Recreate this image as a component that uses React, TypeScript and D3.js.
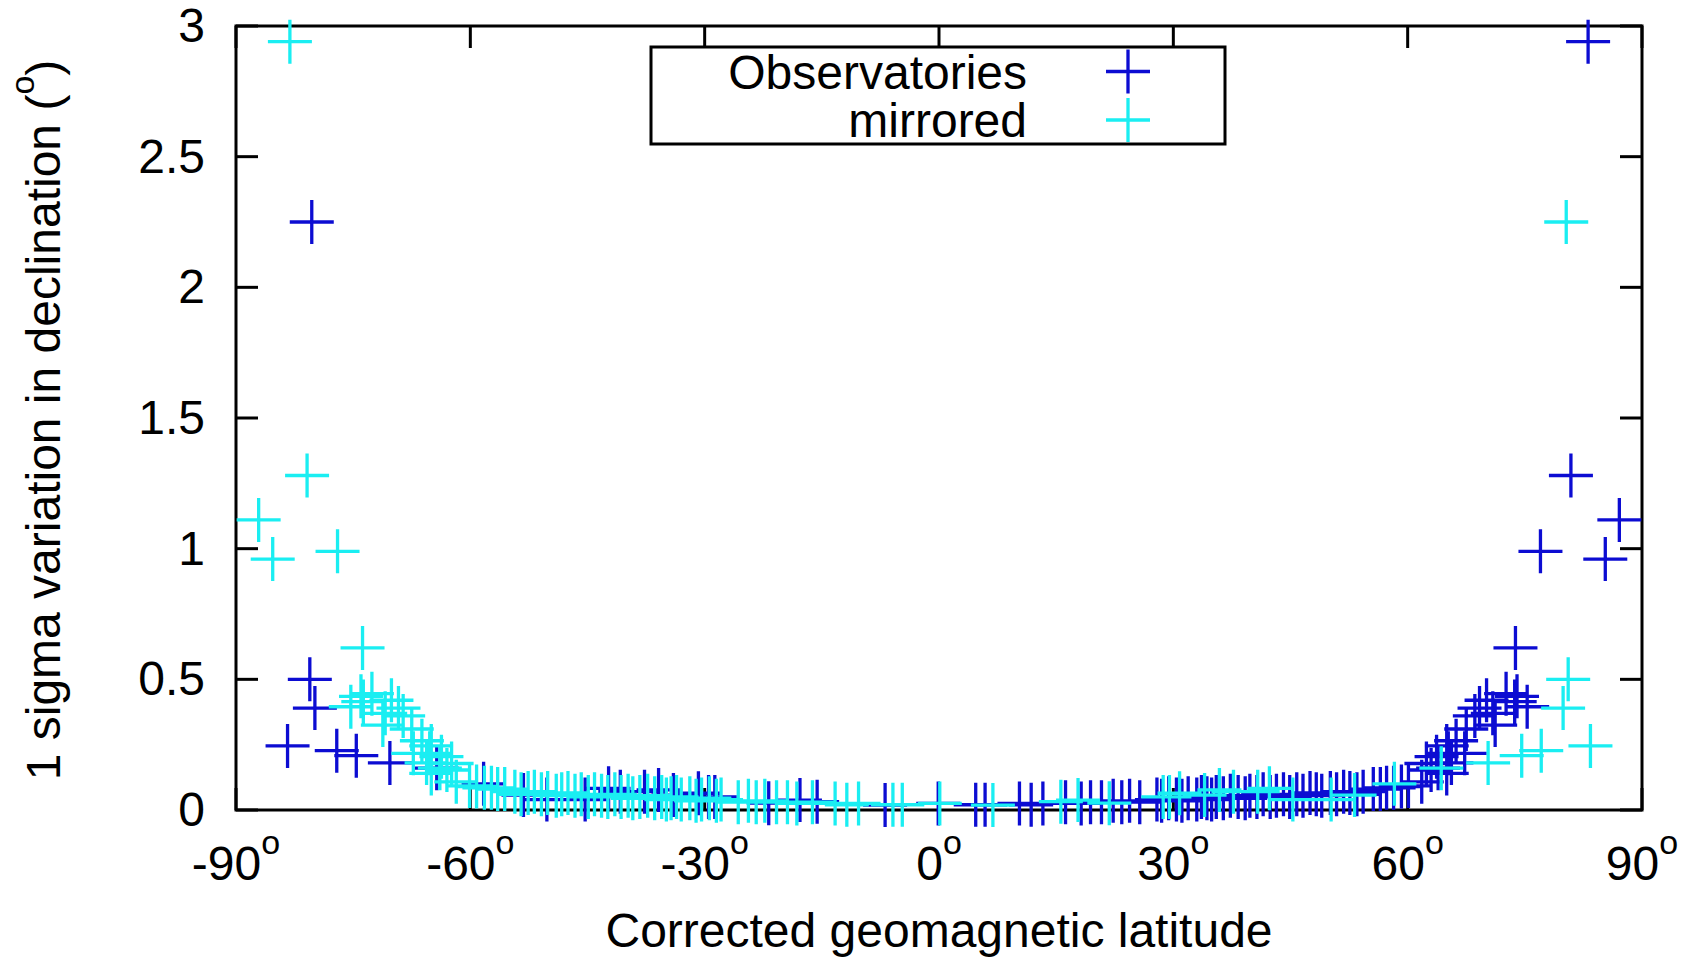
import React from "react";
import * as d3 from "d3";

// Corrected geomagnetic latitude (deg) and 1-sigma declination variation (deg)
const obsLat = [
  -83.4, -80.3, -80.55, -79.9, -77.1, -74.6, -70.3, -64.3, -58.3, -53.2, -50.2, -45.3, -42.3, -40.8,
  -37.7, -35.9, -34.0, -30.8, -29.5, -28.7, -21.8, -17.8, -15.6, -6.9, -0.1,
  4.7, 5.9, 10.3, 11.8, 13.3, 16.2, 18.2, 19.4,
  20.8, 22.3, 23.4, 24.4, 25.7, 27.9, 28.5, 29.4, 30.4, 31.1, 31.9, 33.0, 33.6, 34.3, 34.9, 35.5,
  36.4, 37.3, 38.3, 39.2, 39.8, 40.7, 41.5, 42.4, 43.2, 44.1, 44.9, 45.8, 46.6, 47.5, 48.3, 49.0,
  50.1, 50.9, 51.8, 52.6, 53.5, 54.3, 55.6, 56.5, 57.3, 58.2, 59.2, 60.1,
  61.8, 62.4, 63.0, 63.7, 63.9, 65.0, 65.0, 65.2, 65.6, 66.2, 67.3, 67.5, 68.6, 69.2, 70.1, 70.9,
  71.2, 72.6, 73.7, 74.0, 75.3, 73.8,
  77.0, 80.9, 83.1, 85.3, 87.1,
];
const obsSigma = [
  0.245, 2.25, 0.5, 0.39, 0.227, 0.208, 0.18, 0.16, 0.1, 0.057, 0.04, 0.04, 0.083, 0.07,
  0.07, 0.077, 0.057, 0.064, 0.05, 0.05, 0.026, 0.038, 0.032, 0.019, 0.025,
  0.02, 0.02, 0.025, 0.02, 0.025, 0.03, 0.025, 0.03,
  0.03, 0.035, 0.03, 0.035, 0.03, 0.04, 0.035, 0.045, 0.04, 0.035, 0.045, 0.04, 0.05, 0.045, 0.04, 0.05,
  0.045, 0.055, 0.05, 0.045, 0.055, 0.05, 0.06, 0.05, 0.055, 0.06, 0.05, 0.06, 0.055, 0.065, 0.06, 0.055,
  0.065, 0.06, 0.07, 0.065, 0.06, 0.07, 0.08, 0.08, 0.085, 0.085, 0.09, 0.092,
  0.108, 0.178, 0.153, 0.204, 0.16, 0.14, 0.245, 0.217, 0.18, 0.265, 0.217, 0.31, 0.36, 0.39, 0.42, 0.37,
  0.325, 0.445, 0.415, 0.435, 0.395, 0.62,
  0.99, 1.28, 2.94, 0.96, 1.11,
];

const mirLat = [
  83.4, 80.3, 80.55, 79.9, 77.1, 74.6, 70.3, 64.3, 58.3, 53.2, 50.2, 45.3, 42.3, 40.8,
  37.7, 35.9, 34.0, 30.8, 29.5, 28.7, 21.8, 17.8, 15.6, 6.9, 0.1,
  -4.7, -5.9, -10.3, -11.8, -13.3, -16.2, -18.2, -19.4,
  -20.8, -22.3, -23.4, -24.4, -25.7, -27.9, -28.5, -29.4, -30.4, -31.1, -31.9, -33.0, -33.6, -34.3, -34.9, -35.5,
  -36.4, -37.3, -38.3, -39.2, -39.8, -40.7, -41.5, -42.4, -43.2, -44.1, -44.9, -45.8, -46.6, -47.5, -48.3, -49.0,
  -50.1, -50.9, -51.8, -52.6, -53.5, -54.3, -55.6, -56.5, -57.3, -58.2, -59.2, -60.1,
  -61.8, -62.4, -63.0, -63.7, -63.9, -65.0, -65.0, -65.2, -65.6, -66.2, -67.3, -67.5, -68.6, -69.2, -70.1, -70.9,
  -71.2, -72.6, -73.7, -74.0, -75.3, -73.8,
  -77.0, -80.9, -83.1, -85.3, -87.1,
];
const mirSigma = [
  0.245, 2.25, 0.5, 0.39, 0.227, 0.208, 0.18, 0.16, 0.1, 0.057, 0.04, 0.04, 0.083, 0.07,
  0.07, 0.077, 0.057, 0.064, 0.05, 0.05, 0.026, 0.038, 0.032, 0.019, 0.025,
  0.02, 0.02, 0.025, 0.02, 0.025, 0.03, 0.025, 0.03,
  0.03, 0.035, 0.03, 0.035, 0.03, 0.04, 0.035, 0.045, 0.04, 0.035, 0.045, 0.04, 0.05, 0.045, 0.04, 0.05,
  0.045, 0.055, 0.05, 0.045, 0.055, 0.05, 0.06, 0.05, 0.055, 0.06, 0.05, 0.06, 0.055, 0.065, 0.06, 0.055,
  0.065, 0.06, 0.07, 0.065, 0.06, 0.07, 0.08, 0.08, 0.085, 0.085, 0.09, 0.092,
  0.108, 0.178, 0.153, 0.204, 0.16, 0.14, 0.245, 0.217, 0.18, 0.265, 0.217, 0.31, 0.36, 0.39, 0.42, 0.37,
  0.325, 0.445, 0.415, 0.435, 0.395, 0.62,
  0.99, 1.28, 2.94, 0.96, 1.11,
];

const xTicks = [-90, -60, -30, 0, 30, 60, 90];
const yTicks = [0, 0.5, 1, 1.5, 2, 2.5, 3];
const yTickLabels = ["0", "0.5", "1", "1.5", "2", "2.5", "3"];
const seriesNames = ["Observatories", "mirrored"];
const seriesColors = ["#0c0cd2", "#1aeef2"];

const W = 1696;
const H = 959;
const L = 236, R = 1642, T = 26, B = 810;
const FONT = "'Liberation Sans', Arial, Helvetica, sans-serif";
const FS = 48;
const SUP = 34;

function plusPath(cx: number, cy: number, h: number) {
  return `M${cx - h},${cy}H${cx + h}M${cx},${cy - h}V${cy + h}`;
}

export default function App() {
  const x = d3.scaleLinear().domain([-90, 90]).range([L, R]);
  const y = d3.scaleLinear().domain([0, 3]).range([B, T]);
  const half = 22;
  const tickLen = 22;

  const series = [
    { lat: obsLat, sig: obsSigma },
    { lat: mirLat, sig: mirSigma },
  ];

  return (
    <svg
      width={W}
      height={H}
      style={{ position: "absolute", left: 0, top: 0, background: "#fff" }}
      fontFamily={FONT}
    >
      <rect x={0} y={0} width={W} height={H} fill="#fff" />

      {/* ticks */}
      <g stroke="#000" strokeWidth={3}>
        {yTicks.map((t) => (
          <g key={"y" + t}>
            <line x1={L} x2={L + tickLen} y1={y(t)} y2={y(t)} />
            <line x1={R} x2={R - tickLen} y1={y(t)} y2={y(t)} />
          </g>
        ))}
        {xTicks.map((t) => (
          <g key={"x" + t}>
            <line x1={x(t)} x2={x(t)} y1={B} y2={B - tickLen} />
            <line x1={x(t)} x2={x(t)} y1={T} y2={T + tickLen} />
          </g>
        ))}
      </g>

      {/* frame */}
      <rect x={L} y={T} width={R - L} height={B - T} fill="none" stroke="#000" strokeWidth={3} />

      {/* points */}
      {series.map((s, si) => (
        <path
          key={"s" + si}
          d={s.lat.map((la, i) => plusPath(x(la), y(s.sig[i]), half)).join("")}
          fill="none"
          stroke={seriesColors[si]}
          strokeWidth={3.3}
        />
      ))}

      {/* y tick labels */}
      {yTicks.map((t, i) => (
        <text key={"yl" + t} x={205} y={y(t) + 16} fontSize={FS} textAnchor="end" fill="#000">
          {yTickLabels[i]}
        </text>
      ))}

      {/* x tick labels */}
      {xTicks.map((t) => (
        <text key={"xl" + t} x={x(t)} y={880} fontSize={FS} textAnchor="middle" fill="#000">
          {String(t)}
          <tspan fontSize={SUP} dy={-26}>o</tspan>
        </text>
      ))}

      {/* axis titles */}
      <text x={939} y={947} fontSize={FS} textAnchor="middle" fill="#000">
        Corrected geomagnetic latitude
      </text>
      <text
        transform={`translate(60,${420}) rotate(-90)`}
        fontSize={FS}
        textAnchor="middle"
        fill="#000"
      >
        1 sigma variation in declination (<tspan fontSize={SUP} dy={-26}>o</tspan>
        <tspan dy={26}>)</tspan>
      </text>

      {/* legend */}
      <rect x={651} y={47} width={574} height={97} fill="#fff" stroke="#000" strokeWidth={3} />
      {seriesNames.map((n, i) => (
        <g key={"lg" + i}>
          <text x={1027} y={89 + i * 48} fontSize={FS} textAnchor="end" fill="#000">
            {n}
          </text>
          <path
            d={plusPath(1128, 71.5 + i * 48.5, half)}
            stroke={seriesColors[i]}
            strokeWidth={3.3}
            fill="none"
          />
        </g>
      ))}
    </svg>
  );
}
